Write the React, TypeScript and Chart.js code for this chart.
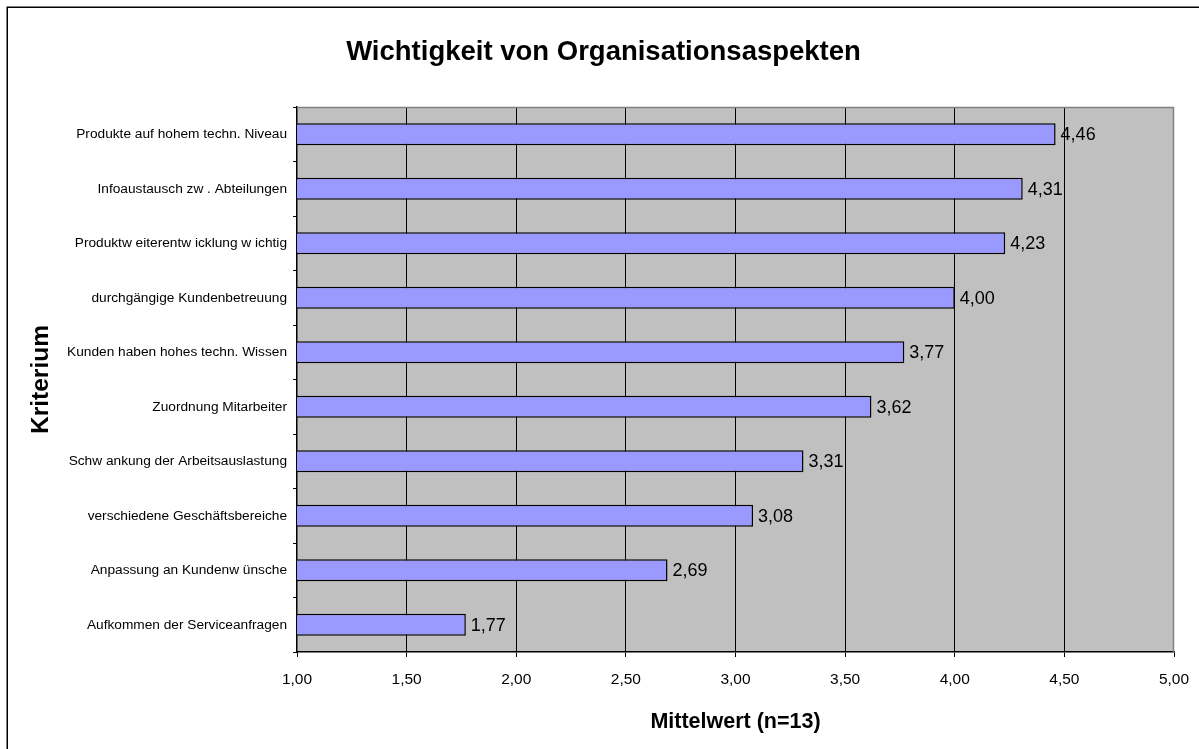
import React, { useEffect, useRef } from "react";
import { Chart, registerables } from "chart.js";

Chart.register(...registerables);

const categories = [
  "Produkte auf hohem techn. Niveau",
  "Infoaustausch zw . Abteilungen",
  "Produktw eiterentw icklung w ichtig",
  "durchgängige Kundenbetreuung",
  "Kunden haben hohes techn. Wissen",
  "Zuordnung Mitarbeiter",
  "Schw ankung der Arbeitsauslastung",
  "verschiedene Geschäftsbereiche",
  "Anpassung an Kundenw ünsche",
  "Aufkommen der Serviceanfragen",
];
const values = [4.46, 4.31, 4.23, 4.0, 3.77, 3.62, 3.31, 3.08, 2.69, 1.77];
const xMin = 1;
const xMax = 5;
const xStep = 0.5;

const chartTitle = "Wichtigkeit von Organisationsaspekten";
const xTitle = "Mittelwert (n=13)";
const yTitle = "Kriterium";

const fmt = (v: number) => v.toFixed(2).replace(".", ",");
const FONT = "'Liberation Sans', Arial, sans-serif";

const decorPlugin = {
  id: "decor",
  beforeDraw(chart: any) {
    const { ctx, chartArea } = chart;
    ctx.save();
    ctx.fillStyle = "#ffffff";
    ctx.fillRect(0, 0, chart.width, chart.height);
    ctx.fillStyle = "#c0c0c0";
    ctx.fillRect(chartArea.left, chartArea.top, chartArea.right - chartArea.left, chartArea.bottom - chartArea.top);
    ctx.strokeStyle = "#000000";
    ctx.lineWidth = 1.5;
    ctx.strokeRect(7.25, 7.25, chart.width + 50, chart.height + 50);
    // chart title
    ctx.fillStyle = "#000000";
    ctx.font = `bold 27.5px ${FONT}`;
    ctx.textAlign = "center";
    ctx.textBaseline = "middle";
    ctx.fillText(chartTitle, 603.5, 52);
    ctx.restore();
  },
  beforeDatasetsDraw(chart: any) {
    const { ctx, chartArea } = chart;
    ctx.save();
    ctx.strokeStyle = "#808080";
    ctx.lineWidth = 1.5;
    ctx.beginPath();
    ctx.moveTo(chartArea.left, chartArea.top + 0.5);
    ctx.lineTo(chartArea.right - 0.5, chartArea.top + 0.5);
    ctx.lineTo(chartArea.right - 0.5, chartArea.bottom);
    ctx.stroke();
    ctx.restore();
  },
  afterDatasetsDraw(chart: any) {
    const { ctx } = chart;
    const meta = chart.getDatasetMeta(0);
    ctx.save();
    ctx.fillStyle = "#000000";
    ctx.font = `18px ${FONT}`;
    ctx.textAlign = "left";
    ctx.textBaseline = "middle";
    meta.data.forEach((bar: any, i: number) => {
      ctx.fillText(fmt(values[i]), bar.x + 5, bar.y + 1);
    });
    ctx.restore();
  },
};

export default function App() {
  const ref = useRef<HTMLCanvasElement>(null);
  useEffect(() => {
    document.body.style.margin = "0";
    const chart = new Chart(ref.current as HTMLCanvasElement, {
      type: "bar",
      data: {
        labels: categories,
        datasets: [
          {
            data: values,
            backgroundColor: "#9999ff",
            borderColor: "#000000",
            borderWidth: 1.5,
            barPercentage: 0.8,
            categoryPercentage: 0.5,
          },
        ],
      },
      options: {
        indexAxis: "y",
        responsive: false,
        animation: false,
        layout: { padding: { top: 107, right: 25, bottom: 0, left: 0 } },
        plugins: {
          legend: { display: false },
          tooltip: { enabled: false },
          title: { display: false },
        },
        scales: {
          x: {
            type: "linear",
            min: xMin,
            max: xMax,
            afterFit(scale: any) {
              scale.height = 749 - 652;
              scale.paddingRight = 0;
              scale.paddingLeft = 0;
            },
            ticks: {
              stepSize: xStep,
              color: "#000000",
              font: { family: FONT, size: 15.5 },
              padding: 13,
              maxRotation: 0,
              callback: (v: any) => fmt(Number(v)),
            },
            grid: {
              color: (c: any) =>
                c.tick && (c.tick.value === xMin || c.tick.value === xMax) ? "rgba(0,0,0,0)" : "#000000",
              tickColor: "#000000",
              tickLength: 5,
              lineWidth: 1,
            },
            border: { display: true, color: "#000000", width: 1.5 },
            title: {
              display: true,
              text: xTitle,
              color: "#000000",
              font: { family: FONT, size: 21.5, weight: "bold" },
              padding: { top: 0, bottom: 14 },
            },
          },
          y: {
            type: "category",
            afterFit(scale: any) {
              scale.width = 297;
            },
            ticks: {
              color: "#000000",
              font: { family: FONT, size: 13.7 },
              padding: 6,
              autoSkip: false,
            },
            grid: {
              drawOnChartArea: false,
              drawTicks: true,
              tickLength: 4,
              tickColor: "#000000",
              offset: true,
            },
            border: { display: true, color: "#000000", width: 1.5 },
            title: {
              display: true,
              text: yTitle,
              color: "#000000",
              font: { family: FONT, size: 24.5, weight: "bold" },
              padding: { top: 27, bottom: 0 },
            },
          },
        },
      },
      plugins: [decorPlugin],
    } as any);
    return () => chart.destroy();
  }, []);
  return <canvas ref={ref} width={1199} height={749} style={{ display: "block" }} />;
}
